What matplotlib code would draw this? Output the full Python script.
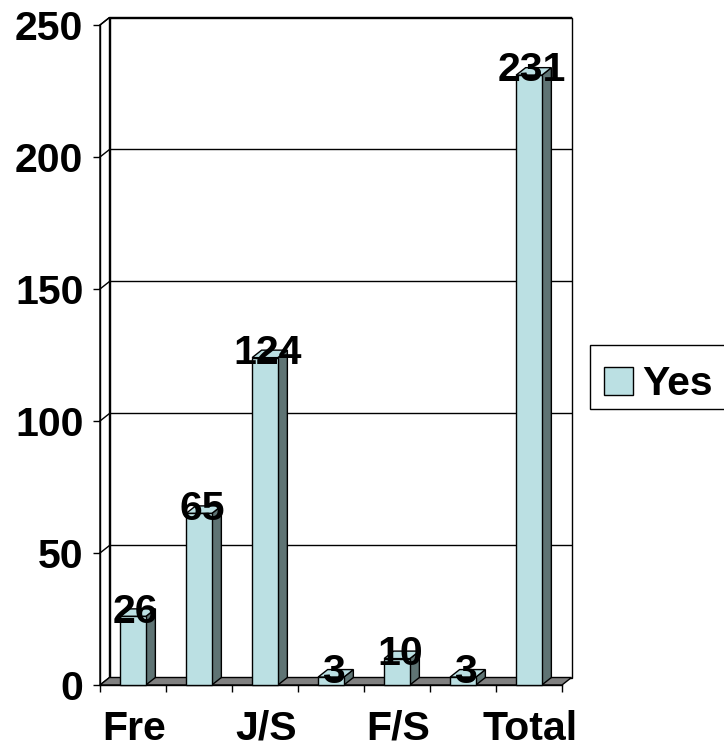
import matplotlib.pyplot as plt
from matplotlib.patches import Polygon, Rectangle

# data
categories = ["Fre", "", "J/S", "", "F/S", "", "Total"]
values = [26, 65, 124, 3, 10, 3, 231]
series_name = "Yes"
yticks = [0, 50, 100, 150, 200, 250]

FRONT = "#BBE0E3"
SIDE = "#5F7474"
FLOOR = "#808080"
FONT = "Liberation Sans"
FS = 29.5

plt.rcParams['font.family'] = [FONT, 'DejaVu Sans']
plt.rcParams['font.weight'] = 'bold'

W, H = 724, 748
fig = plt.figure(figsize=(W / 100, H / 100), dpi=100)
# front plane of the plot area in pixels: x 100..562, y 685..25
ax = fig.add_axes([100 / W, (H - 685) / H, 462 / W, 660 / H])
n = len(values)
ax.set_xlim(0, n)
ax.set_ylim(0, 250)

# 3d depth offset in data units
dx = 9.5 / 66
dy = 7.5 / 2.64

kw = dict(clip_on=False, lw=1.0, ec="black")

# walls and floor
ax.add_patch(Rectangle((dx, dy), n, 250, fc="white", zorder=0, **kw))
ax.add_patch(Polygon([(0, 0), (dx, dy), (dx, 250 + dy), (0, 250)],
                     fc="white", zorder=0, **kw))
for v in yticks[1:]:
    ax.plot([0, dx, n + dx], [v, v + dy, v + dy], color="black",
            lw=1.0, clip_on=False, zorder=1)
ax.add_patch(Polygon([(0, 0), (n, 0), (n + dx, dy), (dx, dy)],
                     fc=FLOOR, zorder=1, **kw))

# bars
bw = 0.39
for i, v in enumerate(values):
    x0 = i + (1 - bw) / 2
    x1 = x0 + bw
    z = 3
    ax.add_patch(Polygon([(x1, 0), (x1 + dx, dy), (x1 + dx, v + dy), (x1, v)],
                         fc=SIDE, zorder=z, **kw))
    ax.add_patch(Polygon([(x0, v), (x1, v), (x1 + dx, v + dy), (x0 + dx, v + dy)],
                         fc=FRONT, zorder=z, **kw))
    ax.add_patch(Rectangle((x0, 0), bw, v, fc=FRONT, zorder=z, **kw))
    ax.annotate(str(v), (i + 0.5, v), xytext=(2, -4.5), textcoords="offset points",
                ha="center", va="baseline", fontsize=FS, fontweight="bold",
                zorder=5, annotation_clip=False)

# axes: spines, ticks and labels
for s in ["top", "right"]:
    ax.spines[s].set_visible(False)
for s in ["left", "bottom"]:
    ax.spines[s].set_linewidth(1.0)
    ax.spines[s].set_zorder(2)
ax.set_yticks(yticks)
ax.set_yticklabels([str(t) for t in yticks], fontsize=FS, fontweight="bold")
ax.tick_params(axis="y", length=5, width=1.0, pad=7)
ax.set_xticks(range(n + 1))
ax.set_xticklabels([])
ax.tick_params(axis="x", which="major", length=5, width=1.0)
ax.set_xticks([i + 0.52 for i in range(n)], minor=True)
ax.set_xticklabels(categories, minor=True, fontsize=FS, fontweight="bold")
ax.tick_params(axis="x", which="minor", length=0, pad=18)
ax.patch.set_visible(False)

# legend (box runs off the right edge)
lx, ly, lh = 590, 345, 64
fig.add_artist(Rectangle((lx / W, 1 - (ly + lh) / H), 200 / W, lh / H,
                         transform=fig.transFigure, fc="white", ec="black", lw=1.0))
fig.add_artist(Rectangle((604 / W, 1 - 395 / H), 29 / W, 28 / H,
                         transform=fig.transFigure, fc=FRONT, ec="black", lw=1.0))
fig.text(642 / W, 1 - 395 / H, series_name, fontsize=FS, fontweight="bold",
         ha="left", va="baseline")

fig.savefig("out.png", dpi=100)
